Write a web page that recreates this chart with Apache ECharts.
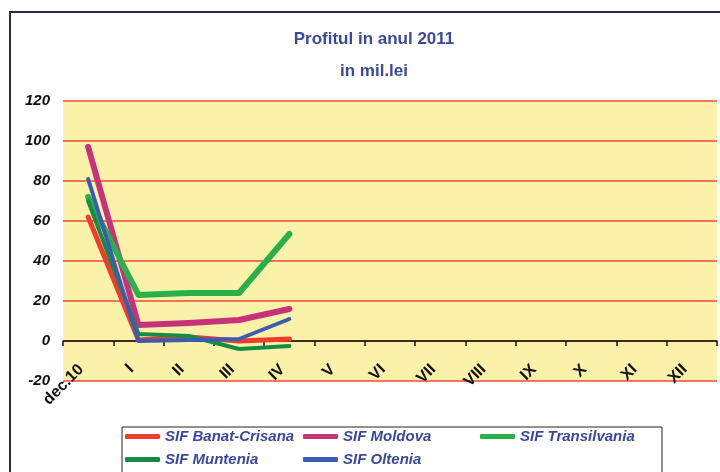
<!DOCTYPE html>
<html><head><meta charset="utf-8">
<script src="https://cdn.jsdelivr.net/npm/echarts@6/dist/echarts.min.js"></script>
<style>html,body{margin:0;padding:0;background:#fff}#c{width:720px;height:472px}</style>
</head><body><div id="c"></div>
<script>
var categories = ['dec.10','I','II','III','IV','V','VI','VII','VIII','IX','X','XI','XII'];
var banatCrisana = [62, 0.5, 2, 0, 1];
var moldova = [97, 8, 9, 10.5, 16];
var transilvania = [72, 23, 24, 24, 53.5];
var muntenia = [70, 3.5, 2.5, -4, -2.5];
var oltenia = [81, 0, 0.5, 1, 11];
var yTicks = {min: -20, max: 120, interval: 20};

var names = ['SIF Banat-Crisana','SIF Moldova','SIF Transilvania','SIF Muntenia','SIF Oltenia'];
var colors = ['#f03c2e','#c8327a','#2ab04a','#148c46','#3a5cb4'];
var widths = [5, 6, 6, 4, 4];
var dataArr = [banatCrisana, moldova, transilvania, muntenia, oltenia];
var legendPos = [[125,429],[303,429],[480,429],[125,452],[303,452]];

var chart = echarts.init(document.getElementById('c'));
var legendText = {color:'#3a48a0', fontSize:15, fontWeight:'bold', fontStyle:'italic', fontFamily:'Liberation Sans, Arial, sans-serif'};
var titleStyle = {color:'#3a48a0', fontSize:17, fontWeight:'bold', fontFamily:'Liberation Sans, Arial, sans-serif'};
var option = {
  animation: false,
  backgroundColor: '#fff',
  title: [
    {text:'Profitul in anul 2011', left:369, top:26, textAlign:'center', textStyle:titleStyle},
    {text:'in mil.lei', left:369, top:58, textAlign:'center', textStyle:titleStyle}
  ],
  graphic: [
    {type:'rect', shape:{x:10,y:12,width:740,height:480}, style:{fill:'none', stroke:'#2a2d48', lineWidth:2}, z:-1},
    {type:'rect', shape:{x:122,y:427,width:540,height:60}, style:{fill:'none', stroke:'#222', lineWidth:1}, z:-1}
  ],
  legend: names.map(function(n,i){
    return {data:[n], left:legendPos[i][0], top:legendPos[i][1], icon:'roundRect', itemWidth:35, itemHeight:5, itemGap:4, textStyle:legendText, padding:0};
  }),
  grid: {left:63, right:3, top:101, bottom:91, show:true, backgroundColor:'#faf2a8', borderWidth:0},
  xAxis: {
    type:'category', data:categories, boundaryGap:true,
    axisLine:{onZero:true, lineStyle:{color:'#111', width:1.5}},
    axisTick:{show:true, length:5, lineStyle:{color:'#111', width:1.5}},
    axisLabel:{rotate:45, margin:-21, padding:[0,10,0,0], color:'#111', fontSize:16, fontWeight:'bold', fontFamily:'Liberation Sans, Arial, sans-serif', interval:0}
  },
  yAxis: {
    type:'value', min:yTicks.min, max:yTicks.max, interval:yTicks.interval,
    axisLine:{show:false}, axisTick:{show:false},
    axisLabel:{margin:13, color:'#111', fontSize:15, fontWeight:'bold', fontStyle:'italic', fontFamily:'Liberation Sans, Arial, sans-serif'},
    splitLine:{show:true, lineStyle:{color:'#f04a3a', width:1.5}}
  },
  series: names.map(function(n,i){
    return {name:n, type:'line', data:dataArr[i], showSymbol:false, symbol:'none', color:colors[i],
      lineStyle:{color:colors[i], width:widths[i], cap:'round', join:'round'}, z:2+i};
  })
};
chart.setOption(option);
</script></body></html>
